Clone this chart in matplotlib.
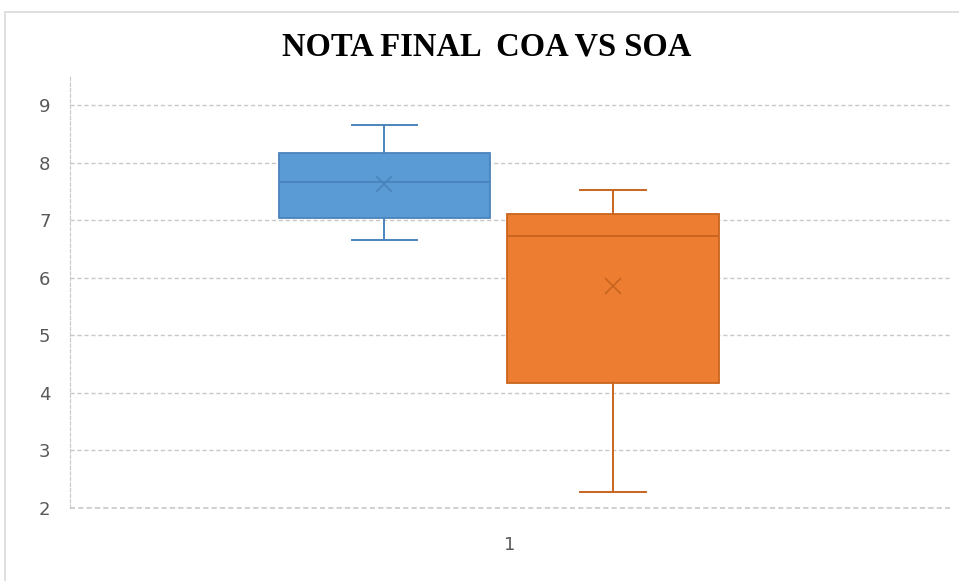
import matplotlib.pyplot as plt
from matplotlib.patches import Rectangle

# Box statistics (COA, SOA)
groups = ['COA', 'SOA']
whis_lo = [6.66, 2.28]
q1 = [7.04, 4.17]
medians = [7.66, 6.72]
q3 = [8.17, 7.11]
whis_hi = [8.65, 7.52]
means = [7.63, 5.86]

fill_colors = ['#5B9BD5', '#ED7D31']
edge_colors = ['#4A84BC', '#C9651F']

yticks = [2, 3, 4, 5, 6, 7, 8, 9]

fig = plt.figure(figsize=(9.59, 5.81), dpi=100)
ax = fig.add_axes([70 / 959, 73 / 581, 880 / 959, 431 / 581])

# light outer frame of the chart area
fig.patches.append(Rectangle((5 / 959, -0.1), 1.2, (581 - 12) / 581 + 0.1,
                             transform=fig.transFigure, fill=False,
                             edgecolor='#D9D9D9', linewidth=1.2))

positions = [0.714, 1.234]
for i in range(len(groups)):
    stats = [dict(med=medians[i], q1=q1[i], q3=q3[i], whislo=whis_lo[i],
                  whishi=whis_hi[i], mean=means[i], fliers=[])]
    ec = edge_colors[i]
    ax.bxp(stats, positions=[positions[i]], widths=0.48, capwidths=0.148,
           patch_artist=True, showmeans=True, manage_ticks=False,
           boxprops=dict(facecolor=fill_colors[i], edgecolor=ec, linewidth=1.3),
           medianprops=dict(color=ec, linewidth=1.4),
           whiskerprops=dict(color=ec, linewidth=1.4),
           capprops=dict(color=ec, linewidth=1.4),
           meanprops=dict(marker='x', markeredgecolor=ec, markersize=11,
                          markeredgewidth=1.3),
           zorder=3)

ax.set_xlim(0, 2)
ax.set_ylim(2, 9.49)
ax.set_yticks(yticks)
ax.set_xticks([1])
ax.set_xticklabels(['1'])

ax.grid(axis='y', color='#C8C8C8', linestyle=(0, (3, 2)), linewidth=1, zorder=0)
for s in ['top', 'right', 'bottom']:
    ax.spines[s].set_visible(False)
ax.spines['left'].set_color('#C8C8C8')
ax.spines['left'].set_linestyle((0, (3, 2)))
ax.axhline(2, color='#C8C8C8', linestyle=(0, (3, 2)), linewidth=1.2,
           zorder=0, clip_on=False)

ax.tick_params(axis='both', length=0, labelsize=13, labelcolor='#595959')
ax.tick_params(axis='y', pad=14)
ax.tick_params(axis='x', pad=20)

fig.text(487 / 959, 1 - 47 / 581, 'NOTA FINAL  COA VS SOA', ha='center',
         va='center', fontsize=23.5, fontweight='bold', family='Liberation Serif',
         color='black')

fig.savefig('out.png', dpi=100, facecolor='white')
